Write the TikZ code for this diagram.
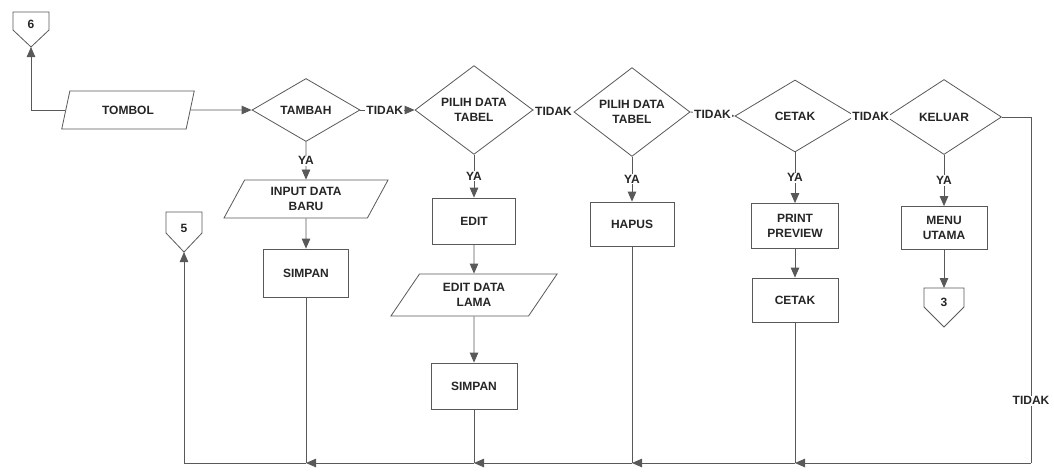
\documentclass[tikz,border=0pt]{standalone}
\usepackage{fontspec}
\setmainfont{Liberation Sans}
\usetikzlibrary{shapes.geometric,arrows.meta,calc}
\begin{document}
\begin{tikzpicture}[x=1pt,y=-1pt,
  line/.style={draw=black!65, line width=0.8pt},
  arr/.style={line, -{Triangle[length=10pt,width=8.5pt]}},
  txt/.style={font=\fontsize{12}{15}\selectfont\bfseries, text=black!85, align=center},
  dec/.style={txt, draw=black!65, line width=0.8pt, diamond, inner sep=0pt},
  proc/.style={txt, draw=black!65, line width=0.8pt, rectangle, inner sep=0pt},
  io/.style={txt, draw=black!65, line width=0.8pt, trapezium, trapezium stretches=true, inner sep=0pt},
  lab/.style={txt, fill=white, inner sep=1pt},
  conn/.style={txt, inner sep=0pt}]
\useasboundingbox[fill=white] (0,0) rectangle (1054,472);

% decisions
\node[io, trapezium left angle=67, trapezium right angle=113, minimum width=133pt, minimum height=38pt] (tombol) at (128,110) {TOMBOL};
\node[dec, minimum width=108pt, minimum height=63pt] (tambah) at (306,110) {TAMBAH};
\node[dec, minimum width=118pt, minimum height=80pt] (pilih1) at (474,110) {PILIH DATA\\TABEL};
\node[dec, minimum width=116pt, minimum height=80pt] (pilih2) at (632,112) {PILIH DATA\\TABEL};
\node[dec, minimum width=120pt, minimum height=72pt] (cetakd) at (795,116) {CETAK};
\node[dec, minimum width=115pt, minimum height=75pt] (keluar) at (944,117) {KELUAR};

% processes
\node[io, trapezium left angle=63, trapezium right angle=117, minimum width=165pt, minimum height=38pt] (input) at (306,199) {INPUT DATA\\BARU};
\node[proc, minimum width=85pt, minimum height=48pt] (simpan1) at (306,273) {SIMPAN};
\node[proc, minimum width=83pt, minimum height=46pt] (edit) at (474,221) {EDIT};
\node[io, trapezium left angle=55, trapezium right angle=125, minimum width=167pt, minimum height=42pt] (editlama) at (474,295) {EDIT DATA\\LAMA};
\node[proc, minimum width=86pt, minimum height=46pt] (simpan2) at (474,386) {SIMPAN};
\node[proc, minimum width=84pt, minimum height=44pt] (hapus) at (632,224) {HAPUS};
\node[proc, minimum width=87pt, minimum height=45pt] (preview) at (795,226) {PRINT\\PREVIEW};
\node[proc, minimum width=86pt, minimum height=44pt] (cetakp) at (795,300) {CETAK};
\node[proc, minimum width=86pt, minimum height=43pt] (menu) at (944,228) {MENU\\UTAMA};

% off-page connectors
\node[conn] (c6) at (31,24) {6};
\draw[line] ([shift={(-18,-12)}]c6.center) -- ([shift={(18,-12)}]c6.center) -- ([shift={(18,6)}]c6.center) -- ([shift={(0,23)}]c6.center) -- ([shift={(-18,6)}]c6.center) -- cycle;
\coordinate (c6tip) at ([shift={(0,23)}]c6.center);

\node[conn] (c5) at (184,228) {5};
\draw[line] ([shift={(-18,-16)}]c5.center) -- ([shift={(18,-16)}]c5.center) -- ([shift={(18,5)}]c5.center) -- ([shift={(0,24)}]c5.center) -- ([shift={(-18,5)}]c5.center) -- cycle;
\coordinate (c5tip) at ([shift={(0,24)}]c5.center);

\node[conn] (c3) at (944,302) {3};
\draw[line] ([shift={(-20,-14)}]c3.center) -- ([shift={(20,-14)}]c3.center) -- ([shift={(20,5)}]c3.center) -- ([shift={(0,25)}]c3.center) -- ([shift={(-20,5)}]c3.center) -- cycle;
\coordinate (c3top) at ([shift={(0,-14)}]c3.center);

% bottom line anchor
\coordinate (br) at (1031,463);

% main flow
\draw[arr] (tombol.west) -| (c6tip);
\draw[arr] (tombol.east) -- (tambah.west);
\draw[arr] (tambah.east) -- node[lab, pos=0.45]{TIDAK} (pilih1.west);
\draw[arr] (pilih1.east) -- node[lab]{TIDAK} (pilih2.west);
\draw[arr] (pilih2.east) -- node[lab]{TIDAK} (cetakd.west);
\draw[arr] (cetakd.east) -- node[lab]{TIDAK} (keluar.west);

\draw[arr] (tambah.south) -- node[lab]{YA} (input.north);
\draw[arr] (pilih1.south) -- node[lab]{YA} (edit.north);
\draw[arr] (pilih2.south) -- node[lab]{YA} (hapus.north);
\draw[arr] (cetakd.south) -- node[lab]{YA} (preview.north);
\draw[arr] (keluar.south) -- node[lab]{YA} (menu.north);

\draw[arr] (input.south) -- (simpan1.north);
\draw[arr] (edit.south) -- (editlama.north);
\draw[arr] (editlama.south) -- (simpan2.north);
\draw[arr] (preview.south) -- (cetakp.north);
\draw[arr] (menu.south) -- (c3top);

% KELUAR TIDAK branch
\draw[line] (keluar.east) -- (keluar.east -| br) -- node[lab, pos=0.82]{TIDAK} (br);

% return lines
\draw[line] (simpan1.south) -- (simpan1.south |- br);
\draw[line] (simpan2.south) -- (simpan2.south |- br);
\draw[line] (hapus.south) -- (hapus.south |- br);
\draw[line] (cetakp.south) -- (cetakp.south |- br);

\draw[arr] (br) -- (cetakp.south |- br);
\draw[arr] (cetakp.south |- br) -- (hapus.south |- br);
\draw[arr] (hapus.south |- br) -- (simpan2.south |- br);
\draw[arr] (simpan2.south |- br) -- (simpan1.south |- br);
\draw[arr] (simpan1.south |- br) -- (c5tip |- br) -- (c5tip);
\end{tikzpicture}
\end{document}
